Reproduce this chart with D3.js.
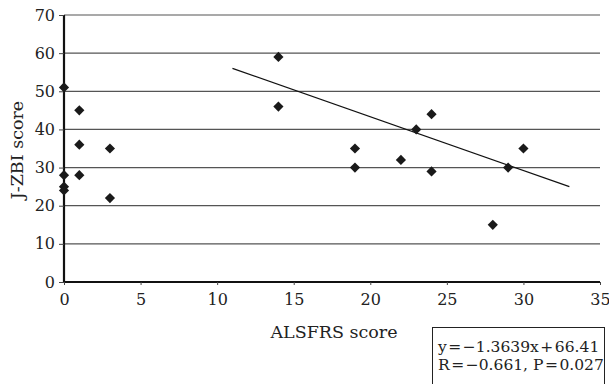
<!DOCTYPE html>
<html>
<head>
<meta charset="utf-8">
<script src="https://cdn.jsdelivr.net/npm/d3@7"></script>
<style>
  body { margin: 0; background: #fff; }
  text { font-family: "DejaVu Serif", serif; fill: #222; }
</style>
</head>
<body>
<div id="container"></div>
<script>
let w = 609;
let h = 384;

// data
let alsfrs = [0, 0, 0, 0, 1, 1, 1, 3, 3, 14, 14, 19, 19, 22, 23, 24, 24, 28, 29, 30];
let zbi    = [51, 28, 25, 24, 45, 36, 28, 35, 22, 59, 46, 35, 30, 32, 40, 44, 29, 15, 30, 35];
let trendX = [11, 33];
let trendY = [56, 25];
let xTicks = [0, 5, 10, 15, 20, 25, 30, 35];
let yTicks = [0, 10, 20, 30, 40, 50, 60, 70];
let eqLines = ["y\u200A=\u200A\u22121.3639x\u200A+\u200A66.41", "R\u200A=\u200A\u22120.661, P\u200A=\u200A0.027"];

let viz = d3.select("#container").append("svg")
    .attr("width", w)
    .attr("height", h);

let xScale = d3.scaleLinear().domain([0, 35]).range([64, 600]);
let yScale = d3.scaleLinear().domain([0, 70]).range([282, 15]);

// gridlines
viz.selectAll(".grid").data(yTicks.filter(d => d > 0)).enter()
  .append("line")
    .attr("class", "grid")
    .attr("x1", xScale(0))
    .attr("x2", xScale(35))
    .attr("y1", d => yScale(d))
    .attr("y2", d => yScale(d))
    .attr("stroke", "#555")
    .attr("stroke-width", 1.2);

// axes
let xAxis = d3.axisBottom(xScale).tickValues(xTicks).tickSize(3).tickPadding(9);
let yAxis = d3.axisLeft(yScale).tickValues(yTicks).tickSize(5).tickPadding(4);

let gx = viz.append("g").attr("transform", "translate(0," + yScale(0) + ")").call(xAxis);
let gy = viz.append("g").attr("transform", "translate(" + xScale(0) + ",0)").call(yAxis);

[gx, gy].forEach(function(g){
  g.attr("font-family", null);
  g.select(".domain").attr("stroke", "#111").attr("stroke-width", 2.2);
  g.selectAll(".tick line").attr("stroke", "#444").attr("stroke-width", 1);
  g.selectAll(".tick text")
    .style("font-family", "'DejaVu Serif', serif")
    .style("font-size", "16px")
    .attr("fill", "#222");
});
gx.select(".domain").attr("d", "M" + xScale(0) + ",0H" + xScale(35));
gy.select(".domain").attr("d", "M0," + yScale(0) + "V" + yScale(70));

// axis titles
viz.append("text")
  .text("ALSFRS score")
  .attr("x", 334)
  .attr("y", 338)
  .attr("text-anchor", "middle")
  .style("font-size", "17.5px");

viz.append("text")
  .text("J-ZBI score")
  .attr("transform", "translate(23,150) rotate(-90)")
  .attr("text-anchor", "middle")
  .style("font-size", "17.5px");

// trend line
viz.append("line")
  .attr("x1", xScale(trendX[0]))
  .attr("y1", yScale(trendY[0]))
  .attr("x2", xScale(trendX[1]))
  .attr("y2", yScale(trendY[1]))
  .attr("stroke", "#111")
  .attr("stroke-width", 1.2);

// points
let diamond = d3.symbol().type(d3.symbolSquare).size(52);
viz.selectAll(".pt").data(alsfrs).enter()
  .append("path")
    .attr("class", "pt")
    .attr("d", diamond)
    .attr("transform", (d, i) => "translate(" + xScale(d) + "," + yScale(zbi[i]) + ") rotate(45)")
    .attr("fill", "#1a1a1a");

// equation box
viz.append("rect")
  .attr("x", 432.5)
  .attr("y", 327.5)
  .attr("width", 172)
  .attr("height", 70)
  .attr("fill", "#fff")
  .attr("stroke", "#222")
  .attr("stroke-width", 1);

viz.selectAll(".eq").data(eqLines).enter()
  .append("text")
    .attr("class", "eq")
    .text(d => d)
    .attr("x", 438)
    .attr("y", (d, i) => 352 + i * 18)
    .style("font-size", "15.5px");
</script>
</body>
</html>
